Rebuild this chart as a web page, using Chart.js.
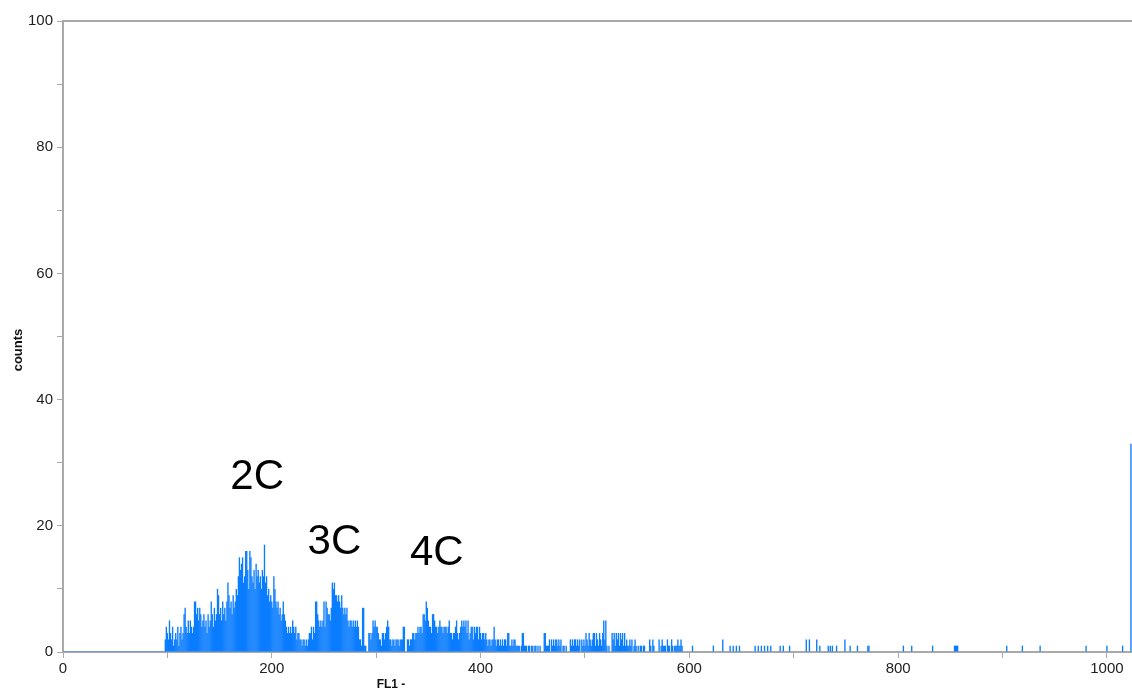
<!DOCTYPE html>
<html>
<head>
<meta charset="utf-8">
<script src="https://cdn.jsdelivr.net/npm/chart.js@4/dist/chart.umd.min.js"></script>
<style>
  html, body { margin: 0; padding: 0; background: #fff; }
  #wrap { width: 1132px; height: 693px; }
</style>
</head>
<body>
<div id="wrap"><canvas id="hist" width="1132" height="693"></canvas></div>
<script>
// histogram channels 0..1023, counts
const channelCount = 1024;
const firstChannel = 98;
const denseCounts = [
  2,4,3,2,5,3,2,4,1,2,3,2,4,1,3,4,2,3,6,7,
  4,3,5,3,5,4,3,4,8,8,6,7,5,7,6,4,5,6,4,5,
  3,6,4,5,8,6,4,7,5,6,10,9,6,7,5,8,6,7,5,8,
  11,9,7,8,6,9,7,8,10,9,12,15,13,14,15,11,12,16,16,13,
  10,16,15,12,11,13,10,14,12,13,11,12,10,13,12,17,11,12,9,10,
  8,9,8,7,12,10,8,7,8,6,7,5,6,8,6,5,4,3,4,3,
  4,3,5,4,3,4,2,3,3,2,2,1,2,2,1,2,1,2,3,3,
  4,2,4,3,8,8,6,5,4,5,4,5,8,4,8,7,6,6,5,7,
  11,10,11,9,9,8,9,8,7,9,7,6,7,6,7,5,4,5,5,4,
  5,4,5,4,5,4,2,2,1,7,7,1,1,0,0,3,3,2,3,5,
  4,5,4,4,3,2,2,1,3,3,2,3,4,5,4,2,2,1,2,2,
  1,2,2,2,1,2,2,2,4,4,0,0,2,2,1,2,2,3,3,2,
  3,3,4,3,4,4,3,6,6,5,8,7,5,4,4,3,6,6,5,4,
  4,3,4,5,4,4,3,4,4,4,3,4,5,3,3,2,3,3,4,5,
  3,2,3,4,5,4,5,4,5,3,5,2,3,4,4,2,4,3,4,4,
  2,4,3,2,3,3,2,3,2,1,2,2,1,2,2,4,2,1,2,2,
  1,2,1,2,1,2,2,1,3,3,1,1,2,1,2,2,1,1,1,1,
  0,1,3,3,1,1,1,0,1,1,0,1,1,0,1,1,0,1,0,1,
  0,0,0,3,3,1,1,1,2,0,2,1,2,1,2,2,1,2,1,2,
  0,1,1,0,1,0,0,0,2,1,2,1,2,2,1,2,1,2,0,2,
  1,2,1,3,2,1,3,2,1,2,3,3,1,3,2,1,3,2,1,3,
  5,2,5,1,0,1,0,0,3,2,3,1,3,2,3,1,3,2,3,1,
  3,1,2,1,1,2,1,2,0,1,2,1,0,1,0,1,1,0,1,1,
  0,0,0,0,2,1,0,2,1,0,0,0,0,2,0,1,2,1,1,1,
  0,2,1,1,0,2,1,0,1,1,1,2,1,1,2,1,0,0
];
const tailChannels = [603,623,632,639,642,645,648,663,666,669,672,675,678,687,690,696,
  712,715,722,725,733,735,737,741,749,754,761,771,772,805,813,833,854,855,856,857,
  904,919,936,980,1000,1015,1023];
const tailCounts = [1,1,2,1,1,1,1,1,1,1,1,1,1,1,1,1,
  2,2,2,1,1,1,1,1,2,1,1,1,1,1,1,1,1,1,1,1,
  1,1,1,1,1,1,33];

const xTickStep = 100, xLabelStep = 200;
const yTickStep = 10, yLabelStep = 20;

const peakNames = ['2C', '3C', '4C'];
const peakChannels = [186, 260, 358];
const peakCounts = [27.6, 17.3, 15.6];

// build the full histogram
const counts = new Array(channelCount).fill(0);
denseCounts.forEach((c, i) => { counts[firstChannel + i] = c; });
tailChannels.forEach((ch, i) => { counts[ch] = tailCounts[i]; });
const histData = counts.map((c, ch) => ({ x: ch, y: c }));

const axisGrey = '#a9a9a9';
const fontFam = '"Liberation Sans", Arial, sans-serif';

const extras = {
  id: 'extras',
  afterDraw(chart) {
    const { ctx, chartArea, scales } = chart;
    ctx.save();
    // top frame line
    ctx.strokeStyle = axisGrey;
    ctx.lineWidth = 2;
    ctx.beginPath();
    ctx.moveTo(chartArea.left, chartArea.top);
    ctx.lineTo(chartArea.right, chartArea.top);
    ctx.stroke();

    // axis titles
    ctx.fillStyle = '#111';
    ctx.font = 'bold 12px ' + fontFam;
    ctx.textAlign = 'center';
    ctx.textBaseline = 'middle';
    ctx.fillText('FL1 -', 391, 685);
    ctx.save();
    ctx.translate(18, 350);
    ctx.rotate(-Math.PI / 2);
    ctx.font = 'bold 13px ' + fontFam;
    ctx.fillText('counts', 0, 0);
    ctx.restore();

    // peak labels
    ctx.font = '42px ' + fontFam;
    ctx.fillStyle = '#000';
    peakNames.forEach((name, i) => {
      const px = scales.x.getPixelForValue(peakChannels[i]);
      const py = scales.y.getPixelForValue(peakCounts[i]);
      ctx.fillText(name, px, py);
    });
    ctx.restore();
  }
};

new Chart(document.getElementById('hist'), {
  type: 'bar',
  data: {
    datasets: [
      {
        type: 'line',
        data: [{ x: 0, y: 0 }, { x: firstChannel, y: 0 }],
        borderColor: '#7b9fcc',
        borderWidth: 2,
        pointRadius: 0,
        order: 0
      },
      {
        data: histData,
        backgroundColor: '#0a7cff',
        borderWidth: 0,
        barPercentage: 1.3,
        categoryPercentage: 1,
        grouped: false,
        order: 1
      }
    ]
  },
  options: {
    responsive: false,
    animation: false,
    devicePixelRatio: 1,
    layout: { padding: { top: 21, right: 0, bottom: 0, left: 0 } },
    plugins: { legend: { display: false }, tooltip: { enabled: false } },
    scales: {
      x: {
        type: 'linear',
        min: 0,
        max: channelCount,
        offset: false,
        afterFit: (scale) => { scale.height = 41; },
        border: { color: axisGrey, width: 2 },
        grid: { drawOnChartArea: false, drawTicks: true, tickLength: 6, color: axisGrey, offset: false },
        ticks: {
          stepSize: xTickStep,
          includeBounds: false,
          autoSkip: false,
          maxRotation: 0,
          padding: 2,
          color: '#222',
          font: { family: fontFam, size: 15 },
          callback: (v) => (v % xLabelStep === 0 ? v : '')
        }
      },
      y: {
        min: 0,
        max: 100,
        afterFit: (scale) => { scale.width = 63; },
        border: { color: axisGrey, width: 2 },
        grid: { drawOnChartArea: false, drawTicks: true, tickLength: 6, color: axisGrey },
        ticks: {
          stepSize: yTickStep,
          padding: 4,
          color: '#222',
          font: { family: fontFam, size: 15 },
          callback: (v) => (v % yLabelStep === 0 ? v : '')
        }
      }
    }
  },
  plugins: [extras]
});
</script>
</body>
</html>
